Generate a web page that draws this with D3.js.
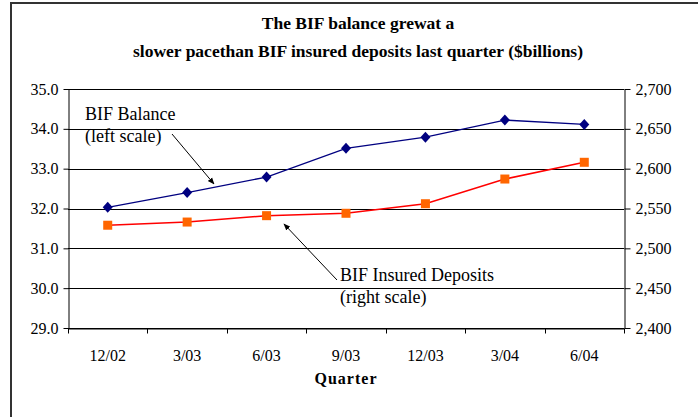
<!DOCTYPE html>
<html>
<head>
<meta charset="utf-8">
<script src="https://cdn.jsdelivr.net/npm/d3@7"></script>
<style>
  html, body { margin: 0; padding: 0; background: #fff; }
  svg { display: block; }
  svg text { font-family: 'Liberation Serif', 'Times New Roman', serif; fill: #000; }
</style>
</head>
<body>
<svg id="chart" width="698" height="417"></svg>
<script>
const categories = ["12/02", "3/03", "6/03", "9/03", "12/03", "3/04", "6/04"];
const bifBalance = [32.03, 32.40, 32.79, 33.51, 33.79, 34.22, 34.11];
const insuredDeposits = [2529, 2533, 2541, 2544, 2556, 2587, 2608];
const leftTicks = [29, 30, 31, 32, 33, 34, 35];
const rightTicks = [2400, 2450, 2500, 2550, 2600, 2650, 2700];
const titleLines = ["The BIF balance grewat a", "slower pacethan BIF insured deposits last quarter ($billions)"];

const FONT = "'Liberation Serif', 'Times New Roman', serif";
const svg = d3.select("#chart");
const W = 698, H = 417;
const L = 68, R = 624, T = 89, B = 328;

// outer frame
svg.append("rect").attr("x", 11).attr("y", 3).attr("width", W + 10).attr("height", H + 10)
  .attr("fill", "#fff").attr("stroke", "#333").attr("stroke-width", 2);

const x = d3.scaleBand().domain(categories).range([L, R]);
const yL = d3.scaleLinear().domain([29, 35]).range([B, T]);
const yR = d3.scaleLinear().domain([2400, 2700]).range([B, T]);

// gridlines
svg.append("g").selectAll("line").data(leftTicks).join("line")
  .attr("x1", L).attr("x2", R)
  .attr("y1", d => Math.round(yL(d)) + 0.5).attr("y2", d => Math.round(yL(d)) + 0.5)
  .attr("stroke", "#000").attr("stroke-width", 1);

// left axis
const gL = svg.append("g").attr("transform", `translate(${L + 0.5},0)`)
  .call(d3.axisLeft(yL).tickValues(leftTicks).tickFormat(d3.format(".1f")).tickSize(5).tickSizeOuter(0));
// right axis
const gR = svg.append("g").attr("transform", `translate(${R + 0.5},0)`)
  .call(d3.axisRight(yR).tickValues(rightTicks).tickFormat(d3.format(",")).tickSize(6).tickSizeOuter(0));
// bottom axis with ticks at band boundaries
const gB = svg.append("g").attr("transform", `translate(0,${Math.round(B) + 0.5})`)
  .call(d3.axisBottom(x).tickSize(0).tickSizeOuter(0));
gB.selectAll(".tick text").attr("dy", null).attr("y", 32);
const bounds = categories.map(c => x(c)).concat([R]);
gB.selectAll("line.bt").data(bounds).join("line").attr("class", "bt")
  .attr("x1", d => Math.round(d) + 0.5).attr("x2", d => Math.round(d) + 0.5)
  .attr("y1", 0).attr("y2", 5).attr("stroke", "#000");

[gL, gR, gB].forEach(g => {
  g.attr("font-family", FONT).attr("font-size", 16);
  g.selectAll("path.domain").attr("stroke", "#000").attr("stroke-width", 1);
  g.selectAll(".tick line").attr("stroke", "#000");
  g.selectAll(".tick text").attr("font-family", FONT).attr("font-size", 16)
    .style("font-family", FONT).style("font-size", "16px").attr("fill", "#000");
});
gL.selectAll(".tick text").attr("x", -10);
gR.selectAll(".tick text").attr("x", 11);

// lines
const cx = d => x(d) + x.bandwidth() / 2;
svg.append("path").datum(categories.map((c, i) => [cx(c), yL(bifBalance[i])]))
  .attr("d", d3.line()).attr("fill", "none").attr("stroke", "#000080").attr("stroke-width", 1.3);
svg.append("path").datum(categories.map((c, i) => [cx(c), yR(insuredDeposits[i])]))
  .attr("d", d3.line()).attr("fill", "none").attr("stroke", "#FF0000").attr("stroke-width", 1.5);

// markers
svg.append("g").selectAll("path").data(categories).join("path")
  .attr("transform", (c, i) => `translate(${cx(c)},${yL(bifBalance[i])})`)
  .attr("d", "M0,-5.5L5,0L0,5.5L-5,0Z").attr("fill", "#000080");
svg.append("g").selectAll("rect").data(categories).join("rect")
  .attr("x", c => cx(c) - 4.5).attr("y", (c, i) => yR(insuredDeposits[i]) - 4.5)
  .attr("width", 9).attr("height", 9).attr("fill", "#FF6600");

// title
svg.append("g").selectAll("text").data(titleLines).join("text")
  .attr("x", 358).attr("y", (d, i) => 29 + i * 28)
  .attr("text-anchor", "middle").style("font-family", FONT).style("font-weight", "bold").style("font-size", "17.5px")
  .text(d => d);

// axis title
svg.append("text").attr("x", 346).attr("y", 384).attr("text-anchor", "middle")
  .style("font-family", FONT).style("font-weight", "bold").style("font-size", "16px").style("letter-spacing", "1px").text("Quarter");

// annotations
const ann = svg.append("g").style("font-size", "18px").style("font-family", FONT);
ann.append("text").attr("x", 85).attr("y", 120).text("BIF Balance");
ann.append("text").attr("x", 85).attr("y", 142).text("(left scale)");
ann.append("text").attr("x", 340).attr("y", 281).text("BIF Insured Deposits");
ann.append("text").attr("x", 340).attr("y", 303).text("(right scale)");

// arrows
const defs = svg.append("defs");
defs.append("marker").attr("id", "ah").attr("viewBox", "0 0 10 10").attr("refX", 9).attr("refY", 5)
  .attr("markerWidth", 7).attr("markerHeight", 7).attr("orient", "auto")
  .append("path").attr("d", "M0,1L10,5L0,9Z").attr("fill", "#000");
svg.append("line").attr("x1", 172).attr("y1", 134).attr("x2", 214).attr("y2", 184)
  .attr("stroke", "#000").attr("stroke-width", 1).attr("marker-end", "url(#ah)");
svg.append("line").attr("x1", 337).attr("y1", 280).attr("x2", 284).attr("y2", 224)
  .attr("stroke", "#000").attr("stroke-width", 1).attr("marker-end", "url(#ah)");
</script>
</body>
</html>
